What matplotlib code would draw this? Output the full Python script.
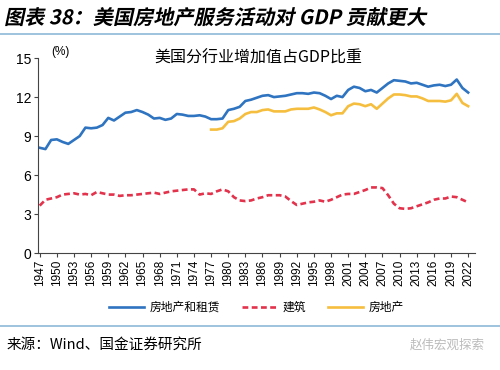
import matplotlib
matplotlib.use('Agg')
import matplotlib.pyplot as plt
from matplotlib.patheffects import AbstractPathEffect
from matplotlib.transforms import Affine2D

plt.rcParams['font.family'] = ['Noto Sans CJK SC', 'DejaVu Sans']

anos = list(range(1947, 2023))

# 房地产和租赁 1947-2022
imobiliario_aluguel = [8.1, 8.0, 8.7, 8.75, 8.55, 8.4, 8.7, 9.0, 9.65, 9.6,
                       9.65, 9.85, 10.4, 10.2, 10.5, 10.8, 10.85, 11.0, 10.85, 10.65,
                       10.35, 10.4, 10.25, 10.35, 10.7, 10.65, 10.55, 10.55, 10.6, 10.5,
                       10.3, 10.3, 10.35, 11.0, 11.1, 11.25, 11.7, 11.8, 11.95, 12.1,
                       12.15, 12.0, 12.05, 12.1, 12.2, 12.3, 12.3, 12.25, 12.35, 12.3,
                       12.1, 11.85, 12.1, 12.0, 12.55, 12.8, 12.7, 12.45, 12.55, 12.35,
                       12.7, 13.05, 13.3, 13.25, 13.2, 13.05, 13.1, 12.95, 12.8, 12.9,
                       12.95, 12.85, 12.95, 13.35, 12.7, 12.35]

# 建筑 1947-2022
construcao = [3.65, 4.1, 4.2, 4.3, 4.5, 4.55, 4.6, 4.5, 4.55, 4.45,
              4.7, 4.6, 4.5, 4.5, 4.4, 4.45, 4.45, 4.5, 4.55, 4.6,
              4.65, 4.55, 4.65, 4.75, 4.8, 4.85, 4.9, 4.9, 4.5, 4.6,
              4.55, 4.75, 4.9, 4.75, 4.3, 4.05, 4.0, 4.05, 4.2, 4.3,
              4.45, 4.45, 4.45, 4.35, 4.0, 3.7, 3.8, 3.9, 3.95, 4.05,
              3.95, 4.1, 4.3, 4.5, 4.55, 4.55, 4.7, 4.85, 5.05, 5.05,
              5.0, 4.45, 3.8, 3.45, 3.4, 3.45, 3.6, 3.75, 3.9, 4.1,
              4.2, 4.2, 4.35, 4.3, 4.1, 3.9]

# 房地产 1977-2022
anos_imob = list(range(1977, 2023))
imobiliario = [9.5, 9.5, 9.6, 10.1, 10.15, 10.35, 10.7, 10.85, 10.85, 11.0,
               11.05, 10.9, 10.9, 10.9, 11.05, 11.1, 11.1, 11.1, 11.2, 11.05,
               10.85, 10.6, 10.75, 10.75, 11.3, 11.5, 11.45, 11.3, 11.45, 11.1,
               11.5, 11.9, 12.2, 12.2, 12.15, 12.05, 12.05, 11.9, 11.7, 11.7,
               11.7, 11.65, 11.75, 12.25, 11.55, 11.3]


class Inclinado(AbstractPathEffect):
    # a fonte CJK nao tem italico, entao inclina o desenho
    def draw_path(self, renderer, gc, tpath, affine, rgbFace=None):
        renderer.draw_path(gc, tpath, Affine2D().skew_deg(12, 0) + affine, rgbFace)


fig = plt.figure(figsize=(5, 3.7), dpi=100)
ax = fig.add_axes([0.076, 0.316, 0.874, 0.527])

ax.plot(anos, imobiliario_aluguel, color='#2F74C0', lw=1.9, label='房地产和租赁')
ax.plot(anos, construcao, color='#E3324B', lw=1.9, ls=(0, (2.2, 1.3)), label='建筑')
ax.plot(anos_imob, imobiliario, color='#F6BE3E', lw=1.9, label='房地产')

ax.set_ylim(0, 15)
ax.set_yticks([0, 3, 6, 9, 12, 15])
ax.set_xlim(1946.7, 2023.2)
ax.set_xticks(list(range(1947, 2023, 3)))
ax.set_xticklabels([str(a) for a in range(1947, 2023, 3)], rotation=90, fontsize=8.5,
                   family=['Liberation Sans'])
for t in ax.get_yticklabels():
    t.set_family(['Liberation Sans'])
    t.set_fontsize(10)
for lado in ['top', 'right']:
    ax.spines[lado].set_visible(False)
for lado in ['left', 'bottom']:
    ax.spines[lado].set_color('#444444')
ax.tick_params(axis='both', length=3, color='#444444', pad=2)

ax.text(0.03, 1.015, '(%)', transform=ax.transAxes, fontsize=8.5, family=['Liberation Sans'])
ax.text(0.505, 1.0, '美国分行业增加值占GDP比重', transform=ax.transAxes, fontsize=11.5,
        ha='center', va='center', fontweight='light')

leg = ax.legend(loc='upper center', bbox_to_anchor=(0.5, -0.19), ncol=3, frameon=False,
                fontsize=8.5, handlelength=3.0, columnspacing=1.8, handletextpad=0.5)

fig.text(0.008, 0.952, '图表 38：美国房地产服务活动对 GDP 贡献更大', fontsize=14.5,
         fontweight='bold', va='center', path_effects=[Inclinado()])
fig.add_artist(plt.Line2D([0, 1], [0.908, 0.908], color='#8DB8D8', lw=1.2))
fig.add_artist(plt.Line2D([0, 1], [0.118, 0.118], color='#8DB8D8', lw=1.2))
fig.text(0.014, 0.068, '来源：Wind、国金证券研究所', fontsize=10.5, va='center')
fig.text(0.97, 0.068, '赵伟宏观探索', fontsize=9, va='center', ha='right', color='#BBBBBB')

fig.savefig('out.png', dpi=100)
